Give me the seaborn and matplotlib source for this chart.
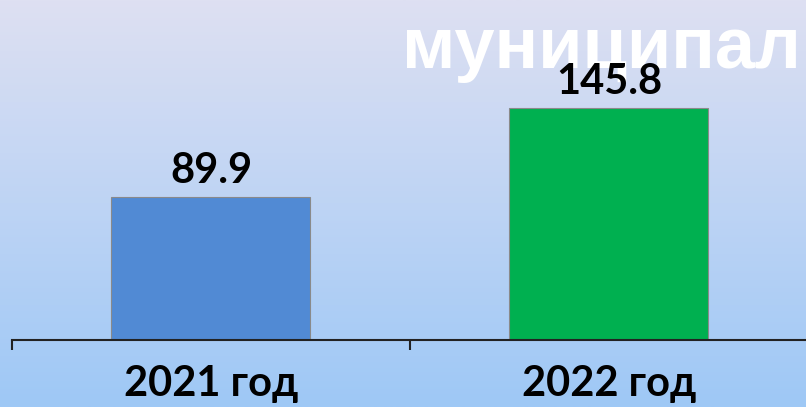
import numpy as np
import pandas as pd
import matplotlib
matplotlib.use("Agg")
import matplotlib.pyplot as plt
import seaborn as sns

categories = ["2021 год", "2022 год"]
values = [89.9, 145.8]
bar_colors = ["#518AD4", "#00B050"]
title_text = "муниципал"

sns.set_theme(style="white")
plt.rcParams['font.family'] = ['Lato', 'DejaVu Sans']

W, H = 806, 407
fig = plt.figure(figsize=(W / 100, H / 100), dpi=100)

# gradient background
bg = fig.add_axes([0, 0, 1, 1], zorder=0)
top = np.array([222, 224, 242]) / 255
bot = np.array([158, 200, 246]) / 255
t = np.linspace(0, 1, 256)[:, None]
grad = top[None, :] * (1 - t) + bot[None, :] * t
bg.imshow(grad[:, None, :], aspect='auto', extent=[0, 1, 0, 1])
bg.axis('off')

ax_left = 12 / W
ax_right = 808 / W
ax_bottom = (H - 340) / H
ax = fig.add_axes([ax_left, ax_bottom, ax_right - ax_left, 1 - ax_bottom], zorder=1)
ax.patch.set_alpha(0)

df = pd.DataFrame({"cat": categories, "val": values})
sns.barplot(data=df, x="cat", y="val", hue="cat", palette=bar_colors,
            width=0.5, ax=ax, legend=False, edgecolor="#8a8a8a", linewidth=0.8,
            saturation=1)

ax.set_xlim(-0.5, 1.5)
ax.set_ylim(0, 340 / 1.59)
for s in ["top", "right", "left"]:
    ax.spines[s].set_visible(False)
ax.spines["bottom"].set_color("#222222")
ax.spines["bottom"].set_linewidth(1.5)
ax.set_yticks([])
ax.set_xlabel("")
ax.set_ylabel("")
ax.set_xticks([0, 1])
ax.set_xticklabels(categories, fontsize=30, fontweight='bold', color='black')
ax.set_xticks([-0.5, 0.5, 1.5], minor=True)
ax.tick_params(axis='x', which='major', length=0, pad=18)
ax.tick_params(axis='x', which='minor', length=7, width=1.5, color='#222222', direction='out', bottom=True)

for i, v in enumerate(values):
    ax.annotate(f"{v}", xy=(i, v), xytext=(0, 10), textcoords='offset points',
                ha='center', va='baseline', fontsize=30,
                fontweight='bold', color='black')

fig.text(402 / W, 1 - 68 / H, title_text, fontsize=52, fontweight='bold',
         color='white', family=['Liberation Sans', 'DejaVu Sans'],
         ha='left', va='baseline', zorder=0.5)

fig.savefig("out.png", dpi=100)
